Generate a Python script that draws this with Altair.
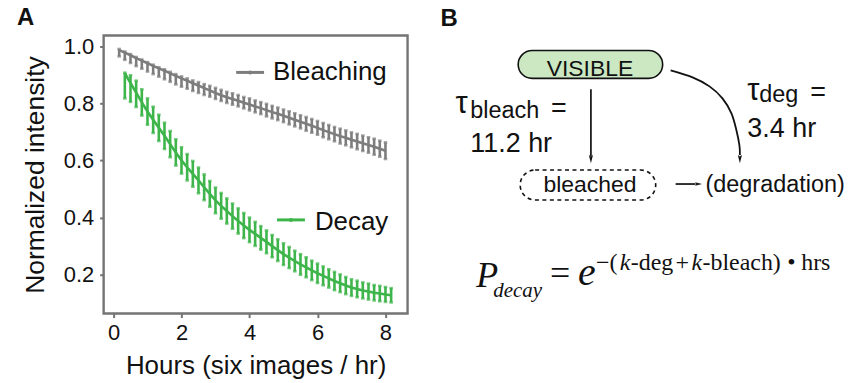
import altair as alt
import pandas as pd

# ---------------- data ----------------
IMAGES_PER_HOUR = 6
bleach_frame = list(range(1, 49))
bleach_mean = [0.986, 0.977, 0.968, 0.958, 0.949, 0.940, 0.931, 0.922, 0.914, 0.905, 0.896, 0.887,
               0.879, 0.870, 0.862, 0.853, 0.845, 0.836, 0.828, 0.821, 0.815, 0.809, 0.802, 0.796,
               0.789, 0.783, 0.776, 0.769, 0.763, 0.756, 0.749, 0.742, 0.735, 0.728, 0.721, 0.714,
               0.706, 0.699, 0.692, 0.685, 0.679, 0.672, 0.666, 0.660, 0.654, 0.648, 0.641, 0.634]
bleach_err_low = [0.022, 0.025, 0.027, 0.028, 0.028, 0.029, 0.029, 0.029, 0.030, 0.030, 0.030, 0.029,
                  0.028, 0.027, 0.026, 0.024, 0.022, 0.021, 0.020, 0.020, 0.020, 0.020, 0.020, 0.021,
                  0.021, 0.021, 0.022, 0.022, 0.022, 0.022, 0.023, 0.023, 0.023, 0.024, 0.024, 0.024,
                  0.025, 0.025, 0.025, 0.026, 0.026, 0.026, 0.027, 0.027, 0.027, 0.028, 0.028, 0.029]
bleach_err_high = [0.004, 0.004, 0.004, 0.004, 0.004, 0.004, 0.004, 0.004, 0.005, 0.005, 0.006, 0.007,
                   0.008, 0.010, 0.012, 0.014, 0.016, 0.018, 0.019, 0.019, 0.020, 0.020, 0.020, 0.021,
                   0.021, 0.021, 0.022, 0.022, 0.022, 0.022, 0.023, 0.023, 0.023, 0.024, 0.024, 0.024,
                   0.025, 0.025, 0.025, 0.026, 0.026, 0.026, 0.027, 0.027, 0.027, 0.028, 0.028, 0.029]

decay_frame = list(range(2, 50))
decay_mean = [0.905, 0.871, 0.837, 0.803, 0.771, 0.742, 0.714, 0.686, 0.657, 0.628, 0.600, 0.576,
              0.553, 0.530, 0.506, 0.483, 0.460, 0.441, 0.423, 0.405, 0.388, 0.372, 0.357, 0.343,
              0.329, 0.315, 0.300, 0.286, 0.272, 0.260, 0.248, 0.236, 0.226, 0.215, 0.205, 0.196,
              0.187, 0.178, 0.170, 0.162, 0.155, 0.150, 0.145, 0.141, 0.137, 0.134, 0.131, 0.128]
decay_err_low = [0.088, 0.066, 0.050, 0.046, 0.046, 0.046, 0.046, 0.046, 0.046, 0.046, 0.046, 0.046,
                 0.045, 0.045, 0.045, 0.045, 0.045, 0.045, 0.044, 0.044, 0.044, 0.044, 0.043, 0.042,
                 0.041, 0.040, 0.039, 0.038, 0.038, 0.037, 0.036, 0.036, 0.035, 0.034, 0.034, 0.033,
                 0.032, 0.032, 0.031, 0.030, 0.029, 0.029, 0.028, 0.028, 0.027, 0.027, 0.026, 0.025]
decay_err_high = [0.002, 0.027, 0.042, 0.046, 0.046, 0.046, 0.046, 0.046, 0.046, 0.046, 0.046, 0.046,
                  0.045, 0.045, 0.045, 0.045, 0.045, 0.045, 0.044, 0.044, 0.044, 0.044, 0.043, 0.042,
                  0.041, 0.040, 0.039, 0.038, 0.038, 0.037, 0.036, 0.036, 0.035, 0.034, 0.034, 0.033,
                  0.032, 0.032, 0.031, 0.030, 0.029, 0.029, 0.028, 0.028, 0.027, 0.027, 0.026, 0.025]

series_names = ["Bleaching", "Decay"]
x_ticks = [0, 2, 4, 6, 8]
y_ticks = [0.2, 0.4, 0.6, 0.8, 1.0]

# ---------------- style ----------------
SANS = "Liberation Sans"
SERIF = "Liberation Serif"
INK = "#111111"
GRAY = "#7d7d7d"
GREEN = "#3db54a"
FRAME = "#747474"
PILL = "#cbe8c3"


def table(frames, mean, lo, hi):
    return pd.DataFrame({
        "hours": [f / IMAGES_PER_HOUR for f in frames],
        "mean": mean,
        "lo": [m - e for m, e in zip(mean, lo)],
        "hi": [m + e for m, e in zip(mean, hi)],
    })


bdf = table(bleach_frame, bleach_mean, bleach_err_low, bleach_err_high)
ddf = table(decay_frame, decay_mean, decay_err_low, decay_err_high)

xscale = alt.Scale(domain=[-0.29, 8.65], nice=False, zero=False)
yscale = alt.Scale(domain=[0.064, 1.037], nice=False, zero=False)
xaxis = alt.Axis(title="Hours (six images / hr)", values=x_ticks, grid=False, domain=False,
                 tickColor=FRAME, tickWidth=2, tickSize=4, labelPadding=5, titlePadding=9,
                 labelFontSize=22, titleFontSize=26)
yaxis = alt.Axis(title="Normalized intensity", values=y_ticks, format=".1f", grid=False, domain=False,
                 tickColor=FRAME, tickWidth=2, tickSize=4, labelPadding=6, titlePadding=14,
                 labelFontSize=22, titleFontSize=26.5)


def X():
    return alt.X("hours:Q", scale=xscale, axis=xaxis)


def Y(f):
    return alt.Y(f"{f}:Q", scale=yscale, axis=yaxis)


def series(df, color):
    base = alt.Chart(df)
    bars = base.mark_rule(color=color, strokeWidth=2.6).encode(x=X(), y=Y("lo"), y2="hi:Q")
    cap_lo = base.mark_tick(color=color, thickness=2.6, size=3.6, orient="horizontal").encode(x=X(), y=Y("lo"))
    cap_hi = base.mark_tick(color=color, thickness=2.6, size=3.6, orient="horizontal").encode(x=X(), y=Y("hi"))
    line = base.mark_line(color=color, strokeWidth=2.6).encode(x=X(), y=Y("mean"))
    return [bars, cap_lo, cap_hi, line]


def legend_item(name, color, x0, x1, ly, tx, ty):
    d = alt.Chart(pd.DataFrame({"label": [name]}))
    return [
        d.mark_rule(color=color, strokeWidth=3).encode(x=alt.value(x0), x2=alt.value(x1), y=alt.value(ly)),
        d.mark_point(color=color, filled=True, size=16, opacity=1).encode(x=alt.value((x0 + x1) / 2), y=alt.value(ly)),
        d.mark_text(align="left", baseline="alphabetic", fontSize=26, font=SANS, color=INK).encode(
            x=alt.value(tx), y=alt.value(ty), text="label:N"),
    ]


panel_a_label = alt.Chart(pd.DataFrame({"t": ["A"]})).mark_text(
    align="left", baseline="alphabetic", fontSize=24, font=SANS, fontWeight="bold", color=INK
).encode(x=alt.value(-87), y=alt.value(-11), text="t:N")

layers_a = (series(bdf, GRAY) + series(ddf, GREEN)
            + legend_item(series_names[0], GRAY, 133, 161, 37, 170, 45)
            + legend_item(series_names[1], GREEN, 174, 202, 185, 212, 195)
            + [panel_a_label])

panel_a = alt.layer(*layers_a).properties(
    width=305, height=279, view=alt.ViewBackground(stroke=FRAME, strokeWidth=2.4))

# ---------------- panel B (diagram) ----------------
bx = alt.Scale(domain=[420, 850], nice=False, zero=False)
by = alt.Scale(domain=[314, 35], nice=False, zero=False)


def BX(f="x"):
    return alt.X(f"{f}:Q", scale=bx, axis=None)


def BY(f="y"):
    return alt.Y(f"{f}:Q", scale=by, axis=None)


def label(txt, x, y, size, align="left", font=SANS, style="normal", weight="normal"):
    df = pd.DataFrame({"t": [txt], "x": [x], "y": [y]})
    return alt.Chart(df).mark_text(align=align, baseline="alphabetic", fontSize=size, font=font,
                                   fontStyle=style, fontWeight=weight, color=INK).encode(
        x=BX(), y=BY(), text="t:N")


def box(x0, x1, y0, y1, radius, fill, dash=None):
    df = pd.DataFrame({"x": [x0], "x2": [x1], "y": [y0], "y2": [y1]})
    kw = dict(cornerRadius=radius, fill=fill, stroke=INK, strokeWidth=1.6)
    if dash:
        kw["strokeDash"] = dash
    return alt.Chart(df).mark_rect(**kw).encode(x=BX(), x2="x2:Q", y=BY(), y2="y2:Q")


def seg(x0, y0, x1, y1):
    df = pd.DataFrame({"x": [x0], "x2": [x1], "y": [y0], "y2": [y1]})
    return alt.Chart(df).mark_rule(color=INK, strokeWidth=1.7).encode(x=BX(), x2="x2:Q", y=BY(), y2="y2:Q")


HEAD_DOWN = "M-0.5,-1L0,1L0.5,-1L0,-0.6Z"
HEAD_RIGHT = "M-1,-0.5L1,0L-1,0.5L-0.6,0Z"


def head(x, y, shape, size=70):
    df = pd.DataFrame({"x": [x], "y": [y]})
    return alt.Chart(df).mark_point(shape=shape, filled=True, size=size, color=INK, opacity=1).encode(
        x=BX(), y=BY())


curve_x = [668, 690, 707, 720, 729, 734, 737, 737.5]
curve_y = [70, 77, 86, 98, 113, 130, 145, 155]
curve = alt.Chart(pd.DataFrame({"x": curve_x, "y": curve_y, "o": list(range(len(curve_x)))})).mark_line(
    color=INK, strokeWidth=1.8, interpolate="cardinal").encode(x=BX(), y=BY(), order="o:O")

layers_b = [
    label("B", 437, 25, 24, weight="bold"),
    box(515, 660, 50, 78, 14, PILL),
    label("VISIBLE", 587, 76, 23, align="center"),
    seg(588, 89, 588, 156), head(588, 159, HEAD_DOWN),
    box(517, 653, 170, 200, 15, "transparent", dash=[4, 3.5]),
    label("bleached", 587, 192, 23, align="center"),
    seg(673, 184, 693, 184), head(696, 184, HEAD_RIGHT, 50),
    label("(degradation)", 703, 192, 23.5),
    curve, head(737.5, 159, HEAD_DOWN),
    label("τ", 452, 113, 31), label("bleach", 467, 118, 23.5), label("=", 548, 117, 27),
    label("11.2 hr", 467, 152, 27),
    label("τ", 745, 100, 31), label("deg", 757, 102, 23.5), label("=", 808, 101, 27),
    label("3.4 hr", 745, 137, 27),
    # equation
    label("P", 473, 287, 36, font=SERIF, style="italic"),
    label("decay", 490, 297, 21, font=SERIF, style="italic"),
    label("=", 547, 285, 36, font=SERIF),
    label("e", 575, 285, 40, font=SERIF, style="italic"),
    label("−(", 593, 270, 24, font=SERIF),
    label("k", 617, 270, 24, font=SERIF, style="italic"),
    label("-deg", 628, 270, 24, font=SERIF),
    label("+", 673, 270, 24, font=SERIF),
    label("k", 689, 270, 24, font=SERIF, style="italic"),
    label("-bleach)", 700, 270, 24, font=SERIF),
    label("•", 785, 270, 24, font=SERIF),
    label("hrs", 799, 270, 24, font=SERIF),
]

panel_b = alt.layer(*layers_b).properties(width=430, height=279, view=alt.ViewBackground(strokeWidth=0))

chart = alt.hconcat(panel_a, panel_b, spacing=14).properties(
    padding={"left": 15, "top": 3, "right": 0, "bottom": 0}
).configure_view(strokeWidth=0).configure_axis(
    labelFont=SANS, titleFont=SANS, labelColor=INK, titleColor=INK, titleFontWeight="normal"
)

chart.save("out.html", embed_options={"renderer": "svg", "actions": False})
